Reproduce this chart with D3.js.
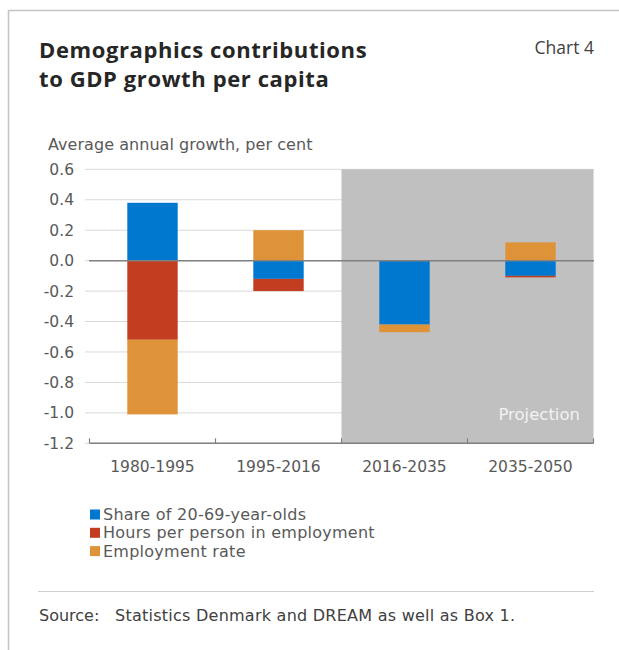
<!DOCTYPE html>
<html>
<head>
<meta charset="utf-8">
<script src="https://d3js.org/d3.v7.min.js"></script>
<style>
  body { margin: 0; background: #fff; }
  text { font-family: "DejaVu Sans", sans-serif; }
  text.head { font-family: "Open Sans", sans-serif; }
</style>
</head>
<body>
<div id="container"></div>
<script>
// data
var periods = ["1980-1995", "1995-2016", "2016-2035", "2035-2050"];
var shareWorkingAge = [0.38, -0.12, -0.42, -0.10];
var hoursPerPerson = [-0.52, -0.08, 0.00, -0.01];
var employmentRate = [-0.49, 0.20, -0.05, 0.12];
var seriesNames = ["Share of 20-69-year-olds", "Hours per person in employment", "Employment rate"];
var seriesColors = ["#0078d0", "#c33d20", "#de9339"];
var yTicks = [0.6, 0.4, 0.2, 0.0, -0.2, -0.4, -0.6, -0.8, -1.0, -1.2];
var projectionFrom = "2016-2035";

var width = 619, height = 650;

var rows = periods.map((p, i) => ({
  period: p,
  s0: shareWorkingAge[i],
  s1: hoursPerPerson[i],
  s2: employmentRate[i]
}));

var stack = d3.stack()
  .keys(["s0", "s1", "s2"])
  .offset(d3.stackOffsetDiverging);
var layers = stack(rows);

var x = d3.scaleBand()
  .domain(periods)
  .range([89.5, 593.5])
  .paddingInner(0.6)
  .paddingOuter(0.3);

// outer band edges (for ticks & shading)
var xEdge = d3.scaleBand().domain(periods).range([89.5, 593.5]);

var y = d3.scaleLinear()
  .domain([-1.2, 0.6])
  .range([443.3, 169.3]);

var svg = d3.select("#container")
  .append("svg")
  .attr("width", width)
  .attr("height", height);

// frame
svg.append("path")
  .attr("d", "M8.5,650 V10.5 H619")
  .attr("fill", "none")
  .attr("stroke", "#c4c4c4")
  .attr("stroke-width", 1.5);

// title
svg.append("text").attr("class", "head")
  .attr("x", 39).attr("y", 58)
  .attr("font-size", 22).attr("font-weight", 700)
  .attr("letter-spacing", 0.6)
  .attr("fill", "#262626")
  .text("Demographics contributions");
svg.append("text").attr("class", "head")
  .attr("x", 39).attr("y", 87)
  .attr("font-size", 22).attr("font-weight", 700)
  .attr("letter-spacing", 0.6)
  .attr("fill", "#262626")
  .text("to GDP growth per capita");
svg.append("text").attr("class", "head")
  .attr("x", 594).attr("y", 54)
  .attr("text-anchor", "end")
  .attr("font-size", 17.5)
  .attr("fill", "#404040")
  .text("Chart 4");

// y label
svg.append("text")
  .attr("x", 48).attr("y", 150)
  .attr("font-size", 16)
  .attr("letter-spacing", 0.05)
  .attr("fill", "#595959")
  .text("Average annual growth, per cent");

// gridlines
svg.append("g")
  .selectAll("line")
  .data(yTicks)
  .join("line")
    .attr("x1", 85).attr("x2", 594)
    .attr("y1", d => y(d)).attr("y2", d => y(d))
    .attr("stroke", "#d9d9d9")
    .attr("stroke-width", 1);

// projection shading
var projX = xEdge(projectionFrom);
svg.append("rect")
  .attr("x", projX)
  .attr("y", y(0.6))
  .attr("width", 593.5 - projX)
  .attr("height", y(-1.2) - y(0.6))
  .attr("fill", "#c0c0c0");

svg.append("text")
  .attr("x", 580).attr("y", 420)
  .attr("text-anchor", "end")
  .attr("font-size", 16.5)
  .attr("fill", "#f2f2f2")
  .text("Projection");

// y tick labels
svg.append("g")
  .selectAll("text")
  .data(yTicks)
  .join("text")
    .attr("x", 74)
    .attr("y", d => y(d))
    .attr("dy", "0.36em")
    .attr("text-anchor", "end")
    .attr("font-size", 15.5)
    .attr("fill", "#595959")
    .text(d => d3.format(".1f")(d).replace("−", "-"));

// bars
svg.append("g")
  .selectAll("g")
  .data(layers)
  .join("g")
    .attr("fill", (d, i) => seriesColors[i])
  .selectAll("rect")
  .data(d => d)
  .join("rect")
    .attr("x", d => x(d.data.period))
    .attr("width", x.bandwidth())
    .attr("y", d => y(Math.max(d[0], d[1])))
    .attr("height", d => Math.abs(y(d[0]) - y(d[1])));

// zero line
svg.append("line")
  .attr("x1", 89).attr("x2", 594)
  .attr("y1", y(0)).attr("y2", y(0))
  .attr("stroke", "#808080")
  .attr("stroke-width", 1.5);

// x axis
var xAxis = svg.append("g")
  .attr("transform", `translate(0,${y(-1.2)})`);
xAxis.append("line")
  .attr("x1", 89.5).attr("x2", 593.5)
  .attr("stroke", "#808080").attr("stroke-width", 1.5);
xAxis.selectAll("line.tk")
  .data(periods.map(p => xEdge(p)).concat([593.5]))
  .join("line")
    .attr("class", "tk")
    .attr("x1", d => d).attr("x2", d => d)
    .attr("y1", 0).attr("y2", -5)
    .attr("stroke", "#808080").attr("stroke-width", 1.2);
xAxis.selectAll("text")
  .data(periods)
  .join("text")
    .attr("x", d => xEdge(d) + xEdge.bandwidth() / 2)
    .attr("y", 29)
    .attr("text-anchor", "middle")
    .attr("font-size", 15.5)
    .attr("fill", "#595959")
    .text(d => d);

// legend
var legend = svg.append("g")
  .selectAll("g")
  .data(seriesNames)
  .join("g")
    .attr("transform", (d, i) => `translate(90,${520 + i * 18.3})`);
legend.append("rect")
  .attr("x", 0).attr("y", -10.5)
  .attr("width", 10).attr("height", 10)
  .attr("fill", (d, i) => seriesColors[i]);
legend.append("text")
  .attr("x", 13).attr("y", 0)
  .attr("font-size", 16)
  .attr("letter-spacing", 0.25)
  .attr("fill", "#595959")
  .text(d => d);

// source
svg.append("line")
  .attr("x1", 38).attr("x2", 594)
  .attr("y1", 591.5).attr("y2", 591.5)
  .attr("stroke", "#d0d0d0").attr("stroke-width", 1.2);
svg.append("text")
  .attr("x", 39).attr("y", 621)
  .attr("font-size", 16)
  .attr("fill", "#404040")
  .text("Source:");
svg.append("text")
  .attr("x", 115).attr("y", 621)
  .attr("font-size", 16)
  .attr("letter-spacing", 0.25)
  .attr("fill", "#404040")
  .text("Statistics Denmark and DREAM as well as Box 1.");
</script>
</body>
</html>
